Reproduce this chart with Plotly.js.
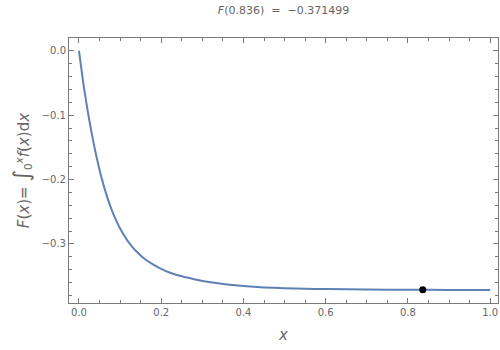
<!DOCTYPE html>
<html>
<head>
<meta charset="utf-8">
<script src="https://cdn.plot.ly/plotly-3.0.1.min.js"></script>
<style>html,body{margin:0;padding:0;background:#fff;}#plot{width:500px;height:350px;}</style>
</head>
<body>
<div id="plot"></div>
<script>
// Curve samples
var xs = [0, 0.01, 0.02, 0.03, 0.04, 0.05, 0.06, 0.07, 0.08, 0.09, 0.10, 0.11, 0.12, 0.13, 0.14, 0.15, 0.16, 0.18, 0.20, 0.22, 0.25, 0.28, 0.32, 0.36, 0.40, 0.45, 0.50, 0.55, 0.60, 0.70, 0.80, 0.90, 1.00];
var Fs = [0, -0.048, -0.089, -0.125, -0.157, -0.185, -0.209, -0.230, -0.248, -0.263, -0.276, -0.287, -0.297, -0.305, -0.312, -0.318, -0.3235, -0.332, -0.339, -0.3445, -0.3505, -0.3550, -0.3598, -0.3632, -0.3656, -0.3677, -0.3690, -0.3698, -0.3704, -0.3710, -0.3714, -0.3717, -0.3719];
// Highlighted point
var pointX = [0.836];
var pointY = [-0.371499];
var titleText = "<i>F</i>(0.836)  =  \u22120.371499";

var grey = '#666666';
var frame = '#7a7a7a';

var traces = [
  {x: xs, y: Fs, mode: 'lines', type: 'scatter',
   line: {color: '#5E81B5', width: 2, shape: 'spline', smoothing: 0.5},
   hoverinfo: 'skip'},
  {x: pointX, y: pointY, mode: 'markers', type: 'scatter',
   marker: {color: '#000000', size: 7}, hoverinfo: 'skip'}
];

var axisCommon = {
  showgrid: false, zeroline: false, showline: true, linecolor: frame, linewidth: 1,
  mirror: 'ticks', ticks: 'inside', tickcolor: frame, ticklen: 5, tickwidth: 1,
  tickfont: {family: 'DejaVu Sans', size: 10, color: grey}
};

var layout = {
  width: 500, height: 350,
  margin: {l: 69, r: 2, t: 38, b: 47},
  paper_bgcolor: '#fff', plot_bgcolor: '#fff',
  showlegend: false,
  title: {text: titleText, font: {family: 'DejaVu Sans', size: 11, color: grey},
          x: 0.5, xref: 'paper', y: 0.971, yref: 'container', yanchor: 'middle'},
  xaxis: Object.assign({}, axisCommon, {
    range: [-0.0243, 1.019], tickmode: 'array',
    tickvals: [0, 0.2, 0.4, 0.6, 0.8, 1.0], ticktext: ['0.0','0.2','0.4','0.6','0.8','1.0'],
    minor: {dtick: 0.05, tick0: 0, ticks: 'inside', ticklen: 3, tickcolor: frame, showgrid: false},
    title: {text: '<i>x</i>', font: {family: 'DejaVu Sans', size: 15, color: grey}, standoff: 12}
  }),
  yaxis: Object.assign({}, axisCommon, {
    range: [-0.392, 0.0202], tickmode: 'array',
    tickvals: [0, -0.1, -0.2, -0.3], ticktext: ['0.0', '\u22120.1', '\u22120.2', '\u22120.3'],
    minor: {dtick: 0.02, tick0: 0, ticks: 'inside', ticklen: 3, tickcolor: frame, showgrid: false},
    title: {text: '<i>F</i>(<i>x</i>)= <span style="font-size:22px">\u222B</span><sub>0</sub><sup><i>x</i></sup><i>f</i>(<i>x</i>)d<i>x</i>',
            font: {family: 'DejaVu Sans', size: 15, color: grey}, standoff: 8}
  })
};

Plotly.newPlot('plot', traces, layout, {staticPlot: true, displayModeBar: false});
</script>
</body>
</html>
